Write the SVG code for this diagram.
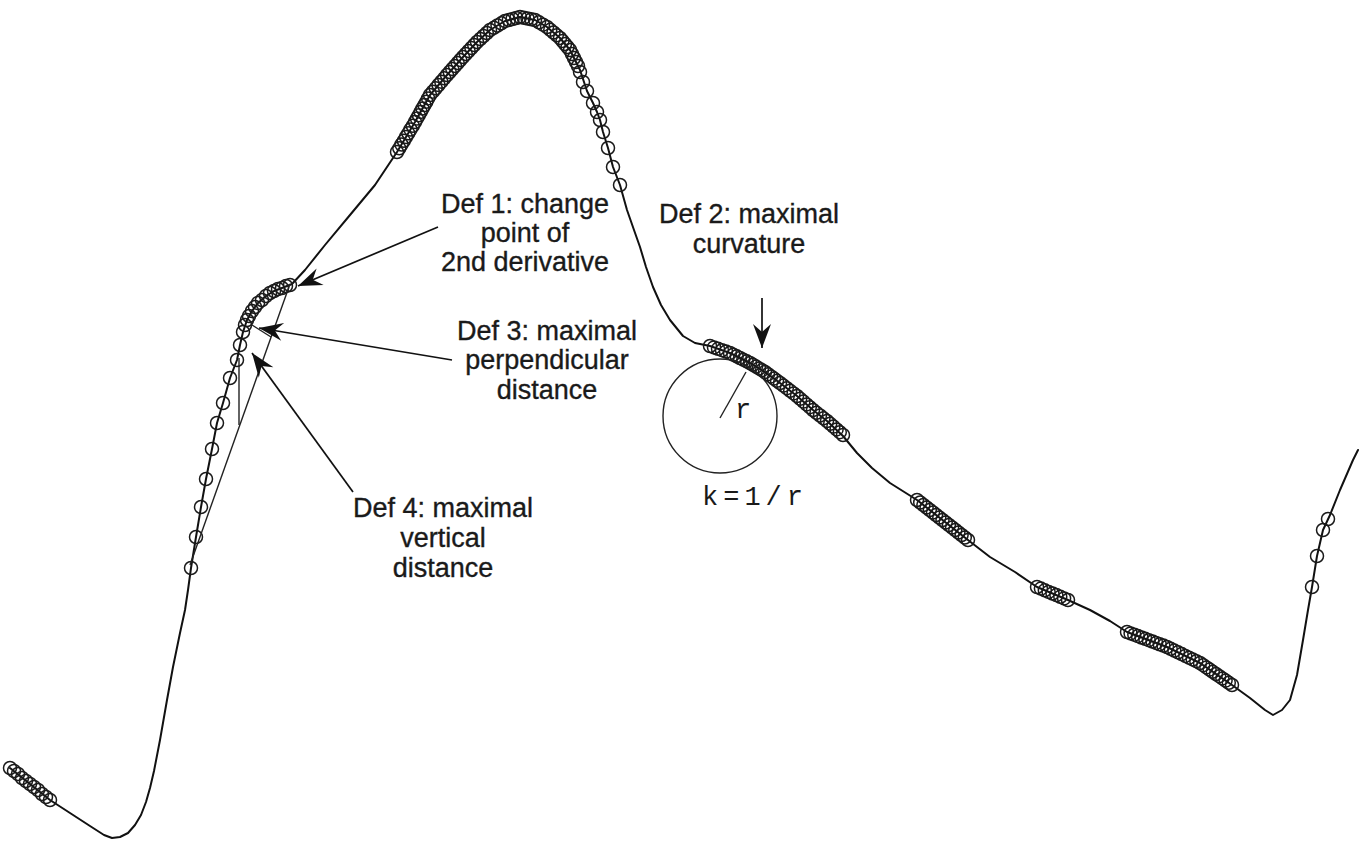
<svg xmlns="http://www.w3.org/2000/svg" width="1360" height="842" viewBox="0 0 1360 842">
<style>
.curve{fill:none;stroke:#111;stroke-width:2;stroke-linejoin:round;stroke-linecap:round}
.c circle{fill:none;stroke:#1a1a1a;stroke-width:1.5}
.conn{fill:none;stroke:#111;stroke-width:1.7}
.thin{fill:none;stroke:#222;stroke-width:1.4}
.lbl{font-family:"Liberation Sans",Arial,sans-serif;font-size:27px;fill:#1a1a1a;stroke:#1a1a1a;stroke-width:0.35;text-anchor:middle}
.mono{font-family:"Liberation Mono","Courier New",monospace;font-size:27px;fill:#1a1a1a}
</style>
<defs>
<marker id="ah" viewBox="-25 -10 26 20" refX="0" refY="0" markerWidth="26" markerHeight="20" markerUnits="userSpaceOnUse" orient="auto">
<path d="M0,0 L-24,-9 L-16,0 L-24,9 Z" fill="#111"/>
</marker>
</defs>
<rect width="1360" height="842" fill="#fff"/>
<g id="curve">
<polyline class="curve" points="10,768 30,784 50,800 70,813 90,826 104,835 112,838 120,837 128,833 135,825 141,815 146,802 150,788 154,771 160,740 167,700 173,667 180,633 185,610 188,590 191,568 196,537 201,507 206,479 212,449 217,423 223,403 230,378 237,360 240,345 243,332 247,320 252,311 258,303 266,296 274,291 282,288 292,284 305,270 325,245 350,215 375,185 397,152 415,122 430,95 447,75 463,57 477,42 490,30 505,21 520,17 535,20 547,27 560,38 570,50 580,70 587,91 593,103 597,112 600,120 603,132 608,148 613,167 620,185 627,210 634,230 640,247 646,267 653,287 661,305 670,320 683,336 695,343 710,346 730,353 750,363 765,372 780,383 797,396 813,410 827,421 843,436 857,453 872,468 890,483 917,500 968,540 990,557 1015,572 1037,587 1068,600 1090,610 1110,621 1127,632 1167,647 1200,663 1232,685 1250,698 1265,710 1273,715 1282,710 1290,700 1297,675 1303,640 1308,610 1312,587 1317,556 1323,530 1330,515 1340,490 1353,460 1358,450"/>
</g>
<g id="circle-markers" class="c">
<circle cx="10" cy="768" r="6.5"/><circle cx="14" cy="771" r="6.5"/><circle cx="18" cy="774" r="6.5"/><circle cx="22" cy="778" r="6.5"/><circle cx="26" cy="781" r="6.5"/><circle cx="30" cy="784" r="6.5"/><circle cx="34" cy="787" r="6.5"/><circle cx="38" cy="790" r="6.5"/><circle cx="42" cy="794" r="6.5"/><circle cx="46" cy="797" r="6.5"/><circle cx="50" cy="800" r="6.5"/>
<circle cx="191" cy="568" r="6.5"/><circle cx="196" cy="537" r="6.5"/><circle cx="201" cy="507" r="6.5"/><circle cx="206" cy="479" r="6.5"/><circle cx="212" cy="449" r="6.5"/><circle cx="217" cy="423" r="6.5"/><circle cx="223" cy="403" r="6.5"/><circle cx="230" cy="378" r="6.5"/><circle cx="237" cy="360" r="6.5"/><circle cx="240" cy="345" r="6.5"/><circle cx="243" cy="332" r="6.5"/>
<circle cx="245" cy="325" r="6.5"/><circle cx="247" cy="320" r="6.5"/><circle cx="249" cy="316" r="6.5"/><circle cx="252" cy="311" r="6.5"/><circle cx="255" cy="307" r="6.5"/><circle cx="258" cy="303" r="6.5"/><circle cx="262" cy="300" r="6.5"/><circle cx="266" cy="296" r="6.5"/><circle cx="270" cy="293" r="6.5"/><circle cx="274" cy="291" r="6.5"/><circle cx="278" cy="289" r="6.5"/><circle cx="282" cy="288" r="6.5"/><circle cx="286" cy="286" r="6.5"/><circle cx="290" cy="285" r="6.5"/>
<circle cx="397" cy="152" r="6.5"/><circle cx="399.3" cy="148.3" r="6.5"/><circle cx="401.5" cy="144.5" r="6.5"/><circle cx="403.8" cy="140.8" r="6.5"/><circle cx="406" cy="137" r="6.5"/><circle cx="408.3" cy="133.3" r="6.5"/><circle cx="410.5" cy="129.5" r="6.5"/><circle cx="412.8" cy="125.8" r="6.5"/>
<circle cx="415" cy="122" r="6.5"/><circle cx="416.9" cy="118.6" r="6.5"/><circle cx="418.8" cy="115.3" r="6.5"/><circle cx="420.6" cy="111.9" r="6.5"/><circle cx="422.5" cy="108.5" r="6.5"/><circle cx="424.4" cy="105.1" r="6.5"/><circle cx="426.3" cy="101.8" r="6.5"/><circle cx="428.1" cy="98.4" r="6.5"/>
<circle cx="430" cy="95" r="6.5"/><circle cx="432.8" cy="91.7" r="6.5"/><circle cx="435.7" cy="88.3" r="6.5"/><circle cx="438.5" cy="85" r="6.5"/><circle cx="441.3" cy="81.7" r="6.5"/><circle cx="444.2" cy="78.3" r="6.5"/>
<circle cx="447" cy="75" r="6.5"/><circle cx="449.7" cy="72" r="6.5"/><circle cx="452.3" cy="69" r="6.5"/><circle cx="455" cy="66" r="6.5"/><circle cx="457.7" cy="63" r="6.5"/><circle cx="460.3" cy="60" r="6.5"/>
<circle cx="463" cy="57" r="6.5"/><circle cx="465.8" cy="54" r="6.5"/><circle cx="468.6" cy="51" r="6.5"/><circle cx="471.4" cy="48" r="6.5"/><circle cx="474.2" cy="45" r="6.5"/>
<circle cx="477" cy="42" r="6.5"/><circle cx="480.3" cy="39" r="6.5"/><circle cx="483.5" cy="36" r="6.5"/><circle cx="486.8" cy="33" r="6.5"/>
<circle cx="490" cy="30" r="6.5"/><circle cx="493.8" cy="27.8" r="6.5"/><circle cx="497.5" cy="25.5" r="6.5"/><circle cx="501.3" cy="23.3" r="6.5"/>
<circle cx="505" cy="21" r="6.5"/><circle cx="508.8" cy="20" r="6.5"/><circle cx="512.5" cy="19" r="6.5"/><circle cx="516.3" cy="18" r="6.5"/>
<circle cx="520" cy="17" r="6.5"/><circle cx="523.8" cy="17.8" r="6.5"/><circle cx="527.5" cy="18.5" r="6.5"/><circle cx="531.3" cy="19.3" r="6.5"/>
<circle cx="535" cy="20" r="6.5"/><circle cx="539" cy="22.3" r="6.5"/><circle cx="543" cy="24.7" r="6.5"/>
<circle cx="547" cy="27" r="6.5"/><circle cx="550.3" cy="29.8" r="6.5"/><circle cx="553.5" cy="32.5" r="6.5"/><circle cx="556.8" cy="35.3" r="6.5"/>
<circle cx="560" cy="38" r="6.5"/><circle cx="562.5" cy="41" r="6.5"/><circle cx="565" cy="44" r="6.5"/><circle cx="567.5" cy="47" r="6.5"/>
<circle cx="570" cy="50" r="6.5"/><circle cx="572" cy="54" r="6.5"/><circle cx="574" cy="58" r="6.5"/><circle cx="576" cy="62" r="6.5"/><circle cx="578" cy="66" r="6.5"/>
<circle cx="580" cy="72" r="6.5"/><circle cx="583" cy="82" r="6.5"/><circle cx="587" cy="91" r="6.5"/><circle cx="593" cy="103" r="6.5"/><circle cx="597" cy="112" r="6.5"/><circle cx="600" cy="120" r="6.5"/><circle cx="603" cy="132" r="6.5"/><circle cx="608" cy="148" r="6.5"/><circle cx="613" cy="167" r="6.5"/><circle cx="620" cy="185" r="6.5"/>
<circle cx="710" cy="346" r="6.5"/><circle cx="714" cy="347.4" r="6.5"/><circle cx="718" cy="348.8" r="6.5"/><circle cx="722" cy="350.2" r="6.5"/><circle cx="726" cy="351.6" r="6.5"/>
<circle cx="730" cy="353" r="6.5"/><circle cx="733.3" cy="354.7" r="6.5"/><circle cx="736.7" cy="356.3" r="6.5"/><circle cx="740" cy="358" r="6.5"/><circle cx="743.3" cy="359.7" r="6.5"/><circle cx="746.7" cy="361.3" r="6.5"/>
<circle cx="750" cy="363" r="6.5"/><circle cx="753" cy="364.8" r="6.5"/><circle cx="756" cy="366.6" r="6.5"/><circle cx="759" cy="368.4" r="6.5"/><circle cx="762" cy="370.2" r="6.5"/>
<circle cx="765" cy="372" r="6.5"/><circle cx="768" cy="374.2" r="6.5"/><circle cx="771" cy="376.4" r="6.5"/><circle cx="774" cy="378.6" r="6.5"/><circle cx="777" cy="380.8" r="6.5"/>
<circle cx="780" cy="383" r="6.5"/><circle cx="783.4" cy="385.6" r="6.5"/><circle cx="786.8" cy="388.2" r="6.5"/><circle cx="790.2" cy="390.8" r="6.5"/><circle cx="793.6" cy="393.4" r="6.5"/>
<circle cx="797" cy="396" r="6.5"/><circle cx="800.2" cy="398.8" r="6.5"/><circle cx="803.4" cy="401.6" r="6.5"/><circle cx="806.6" cy="404.4" r="6.5"/><circle cx="809.8" cy="407.2" r="6.5"/>
<circle cx="813" cy="410" r="6.5"/><circle cx="816.5" cy="412.8" r="6.5"/><circle cx="820" cy="415.5" r="6.5"/><circle cx="823.5" cy="418.3" r="6.5"/>
<circle cx="827" cy="421" r="6.5"/><circle cx="830.2" cy="423.8" r="6.5"/><circle cx="833.4" cy="426.6" r="6.5"/><circle cx="836.6" cy="429.4" r="6.5"/><circle cx="839.8" cy="432.2" r="6.5"/><circle cx="843" cy="435" r="6.5"/>
<circle cx="917" cy="500" r="6.5"/><circle cx="920.2" cy="502.5" r="6.5"/><circle cx="923.4" cy="505" r="6.5"/><circle cx="926.6" cy="507.5" r="6.5"/><circle cx="929.8" cy="510" r="6.5"/><circle cx="933" cy="512.5" r="6.5"/><circle cx="936.1" cy="515" r="6.5"/><circle cx="939.3" cy="517.5" r="6.5"/><circle cx="942.5" cy="520" r="6.5"/><circle cx="945.7" cy="522.5" r="6.5"/><circle cx="948.9" cy="525" r="6.5"/><circle cx="952.1" cy="527.5" r="6.5"/><circle cx="955.3" cy="530" r="6.5"/><circle cx="958.4" cy="532.5" r="6.5"/><circle cx="961.6" cy="535" r="6.5"/><circle cx="964.8" cy="537.5" r="6.5"/><circle cx="968" cy="540" r="6.5"/>
<circle cx="1037" cy="587" r="6.5"/><circle cx="1040.9" cy="588.6" r="6.5"/><circle cx="1044.8" cy="590.3" r="6.5"/><circle cx="1048.6" cy="591.9" r="6.5"/><circle cx="1052.5" cy="593.5" r="6.5"/><circle cx="1056.4" cy="595.1" r="6.5"/><circle cx="1060.3" cy="596.8" r="6.5"/><circle cx="1064.1" cy="598.4" r="6.5"/><circle cx="1068" cy="600" r="6.5"/>
<circle cx="1127" cy="632" r="6.5"/><circle cx="1130.6" cy="633.4" r="6.5"/><circle cx="1134.3" cy="634.7" r="6.5"/><circle cx="1137.9" cy="636.1" r="6.5"/><circle cx="1141.5" cy="637.5" r="6.5"/><circle cx="1145.2" cy="638.8" r="6.5"/><circle cx="1148.8" cy="640.2" r="6.5"/><circle cx="1152.5" cy="641.5" r="6.5"/><circle cx="1156.1" cy="642.9" r="6.5"/><circle cx="1159.7" cy="644.3" r="6.5"/><circle cx="1163.4" cy="645.6" r="6.5"/>
<circle cx="1167" cy="647" r="6.5"/><circle cx="1170.7" cy="648.8" r="6.5"/><circle cx="1174.3" cy="650.6" r="6.5"/><circle cx="1178" cy="652.3" r="6.5"/><circle cx="1181.7" cy="654.1" r="6.5"/><circle cx="1185.3" cy="655.9" r="6.5"/><circle cx="1189" cy="657.7" r="6.5"/><circle cx="1192.7" cy="659.4" r="6.5"/><circle cx="1196.3" cy="661.2" r="6.5"/>
<circle cx="1200" cy="663" r="6.5"/><circle cx="1203.2" cy="665.2" r="6.5"/><circle cx="1206.4" cy="667.4" r="6.5"/><circle cx="1209.6" cy="669.6" r="6.5"/><circle cx="1212.8" cy="671.8" r="6.5"/><circle cx="1216" cy="674" r="6.5"/><circle cx="1219.2" cy="676.2" r="6.5"/><circle cx="1222.4" cy="678.4" r="6.5"/><circle cx="1225.6" cy="680.6" r="6.5"/><circle cx="1228.8" cy="682.8" r="6.5"/><circle cx="1232" cy="685" r="6.5"/>
<circle cx="1312" cy="587" r="6.5"/><circle cx="1317" cy="556" r="6.5"/><circle cx="1323" cy="530" r="6.5"/><circle cx="1328" cy="519" r="6.5"/>
</g>
<g id="construction">
<line class="thin" x1="190" y1="565" x2="290" y2="284"/>
<line class="thin" x1="239" y1="358" x2="239" y2="425"/>
<line class="thin" x1="252" y1="325" x2="271" y2="337"/>
<circle class="thin" cx="720" cy="416" r="57"/>
<line class="thin" x1="720" y1="418" x2="746" y2="372"/>
</g>
<g id="connectors">
<line class="conn" x1="438" y1="227" x2="298" y2="286" marker-end="url(#ah)"/>
<line class="conn" x1="762" y1="298" x2="762" y2="348" marker-end="url(#ah)"/>
<line class="conn" x1="452" y1="360" x2="259" y2="328" marker-end="url(#ah)"/>
<line class="conn" x1="353" y1="492" x2="252" y2="353" marker-end="url(#ah)"/>
</g>
<g id="def1">
<text class="lbl" x="525" y="213">Def 1: change</text>
<text class="lbl" x="525" y="242">point of</text>
<text class="lbl" x="525" y="271">2nd derivative</text>
</g>
<g id="def2">
<text class="lbl" x="749" y="223">Def 2: maximal</text>
<text class="lbl" x="749" y="253">curvature</text>
</g>
<g id="def3">
<text class="lbl" x="547" y="340">Def 3: maximal</text>
<text class="lbl" x="547" y="369">perpendicular</text>
<text class="lbl" x="547" y="399">distance</text>
</g>
<g id="def4">
<text class="lbl" x="443" y="517">Def 4: maximal</text>
<text class="lbl" x="443" y="547">vertical</text>
<text class="lbl" x="443" y="577">distance</text>
</g>
<g id="curvature-labels">
<text class="mono" x="735" y="418">r</text>
<text class="mono" x="702" y="505" letter-spacing="5">k=1/r</text>
</g>
</svg>
